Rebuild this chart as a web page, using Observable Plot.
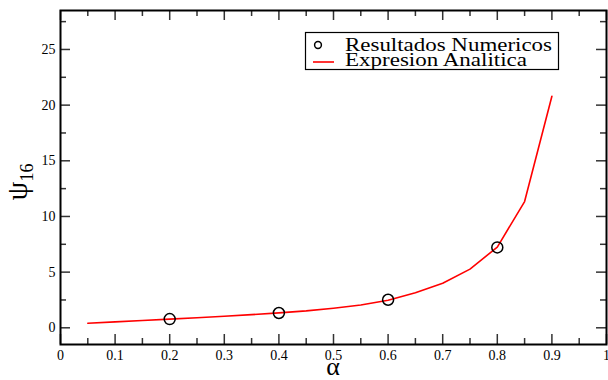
<!DOCTYPE html>
<html><head><meta charset="utf-8">
<script src="https://cdn.jsdelivr.net/npm/d3@7"></script>
<script src="https://cdn.jsdelivr.net/npm/@observablehq/plot@0.6"></script>
<style>body{margin:0;background:#fff}</style>
</head><body><div id="chart"></div>
<script>
// Numerical results (circles)
const numAlpha = [0.2, 0.4, 0.6, 0.8];
const numPsi = [0.78, 1.33, 2.52, 7.22];
// Analytic expression (red line)
const anaAlpha = [0.05, 0.10, 0.15, 0.20, 0.25, 0.30, 0.35, 0.40, 0.45, 0.50, 0.55, 0.60, 0.65, 0.70, 0.75, 0.80, 0.85, 0.90];
const anaPsi   = [0.41, 0.53, 0.65, 0.78, 0.90, 1.04, 1.18, 1.34, 1.52, 1.76, 2.05, 2.48, 3.15, 4.00, 5.27, 7.25, 11.34, 20.8];
// Ticks
const xTicks = [0, 0.1, 0.2, 0.3, 0.4, 0.5, 0.6, 0.7, 0.8, 0.9, 1];
const xMinor = [0.05, 0.15, 0.25, 0.35, 0.45, 0.55, 0.65, 0.75, 0.85, 0.95];
const yTicks = [0, 5, 10, 15, 20, 25];
const yMinor = [2.5, 7.5, 12.5, 17.5, 22.5, 27.5];
const legendLabels = ["Resultados Numericos", "Expresion Analitica"];
const xLabel = "α";
const yLabel = "ψ";
const yLabelSub = "16";

const W = 608, H = 380, mL = 60, mR = 2, mT = 10, mB = 36;
const pw = W - mL - mR, ph = H - mT - mB;
const major = 10, minor = 6;
const tickStroke = "#333";
const serif = "'Liberation Serif', 'Times New Roman', Times, 'DejaVu Serif', serif";

const num = numAlpha.map((a, i) => ({a, p: numPsi[i]}));
const ana = anaAlpha.map((a, i) => ({a, p: anaPsi[i]}));

const svg = Plot.plot({
  width: W, height: H,
  marginLeft: mL, marginRight: mR, marginTop: mT, marginBottom: mB,
  style: {fontFamily: serif, fontSize: "14px", color: "black", background: "white"},
  x: {domain: [0, 1]},
  y: {domain: [-1.5, 28.5]},
  marks: [
    // inward ticks on all four sides
    Plot.tickY(yTicks, {y: d => d, insetRight: pw - major, stroke: tickStroke, strokeWidth: 1.5}),
    Plot.tickY(yMinor, {y: d => d, insetRight: pw - minor, stroke: tickStroke, strokeWidth: 1.5}),
    Plot.tickY(yTicks, {y: d => d, insetLeft: pw - major, stroke: tickStroke, strokeWidth: 1.5}),
    Plot.tickY(yMinor, {y: d => d, insetLeft: pw - minor, stroke: tickStroke, strokeWidth: 1.5}),
    Plot.tickX(xTicks, {x: d => d, insetTop: ph - major, stroke: tickStroke, strokeWidth: 1.5}),
    Plot.tickX(xMinor, {x: d => d, insetTop: ph - minor, stroke: tickStroke, strokeWidth: 1.5}),
    Plot.tickX(xTicks, {x: d => d, insetBottom: ph - major, stroke: tickStroke, strokeWidth: 1.5}),
    Plot.tickX(xMinor, {x: d => d, insetBottom: ph - minor, stroke: tickStroke, strokeWidth: 1.5}),
    Plot.line(ana, {x: "a", y: "p", stroke: "#ff0000", strokeWidth: 1.6}),
    Plot.dot(num, {x: "a", y: "p", r: 5.5, stroke: "black", strokeWidth: 1.5, fill: "none"}),
    Plot.frame({stroke: "black", strokeWidth: 2}),
    Plot.axisX({ticks: xTicks, tickSize: 0, tickPadding: 6, tickFormat: d3.format("~g"), label: null, fontSize: 14, fontFamily: serif, fill: "black"}),
    Plot.axisY({ticks: yTicks, tickSize: 0, tickPadding: 5, tickFormat: d3.format("~g"), label: null, fontSize: 14, fontFamily: serif, fill: "black"})
  ]
});

const s = d3.select(svg);
s.selectAll("text").style("font-family", serif);
// axis titles
s.append("text").attr("x", mL + pw / 2).attr("y", 375)
  .attr("text-anchor", "middle").style("font-family", serif)
  .attr("font-size", 26).attr("fill", "black").text(xLabel);
const yl = s.append("text").attr("transform", "translate(27,182) rotate(-90)")
  .attr("text-anchor", "middle").style("font-family", serif).attr("fill", "black");
yl.append("tspan").attr("font-size", 30).text(yLabel);
yl.append("tspan").attr("font-size", 18).attr("dy", 6).text(yLabelSub);

// legend
const lg = s.append("g");
lg.append("rect").attr("x", 305.5).attr("y", 32.5).attr("width", 253).attr("height", 37)
  .attr("fill", "white").attr("stroke", "black").attr("stroke-width", 1.2);
lg.append("circle").attr("cx", 318).attr("cy", 45).attr("r", 3.4)
  .attr("fill", "none").attr("stroke", "black").attr("stroke-width", 1.5);
lg.append("line").attr("x1", 313).attr("x2", 334).attr("y1", 62).attr("y2", 62)
  .attr("stroke", "#ff0000").attr("stroke-width", 1.6);
const tw = [207, 182];
legendLabels.forEach((t, i) => {
  lg.append("text").attr("x", 345).attr("y", 50.5 + i * 15)
    .attr("text-anchor", "start")
    .style("font-family", serif).attr("font-size", 18).attr("fill", "black")
    .attr("textLength", tw[i]).attr("lengthAdjust", "spacingAndGlyphs").text(t);
});

document.getElementById("chart").append(svg);
</script>
</body></html>
